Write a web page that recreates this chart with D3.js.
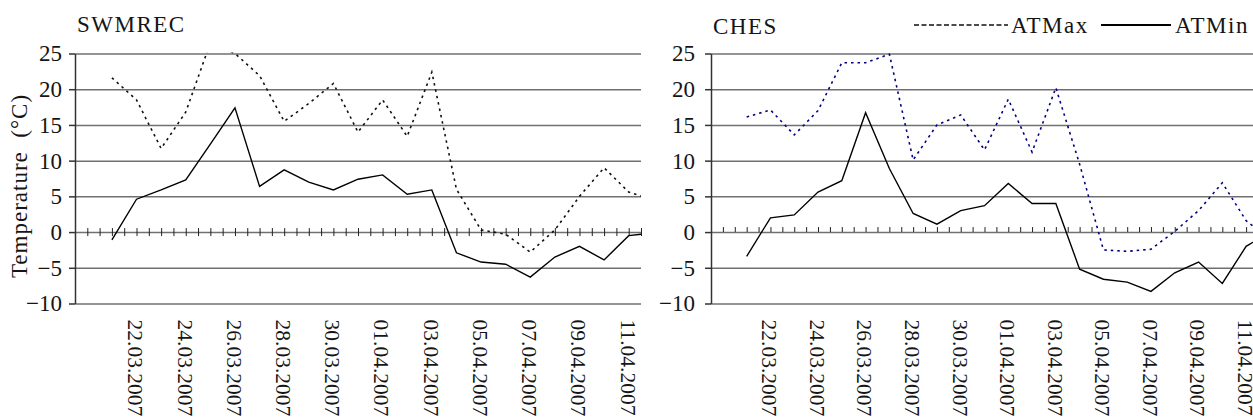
<!DOCTYPE html>
<html>
<head>
<meta charset="utf-8">
<script src="https://cdn.jsdelivr.net/npm/d3@7"></script>
<style>
    body { margin: 0; background: #ffffff; }
    text { font-family: "Liberation Serif", "Times New Roman", serif; font-size: 23px; fill: #151515; }
    .word { letter-spacing: 1.5px; }
    .dates text { font-size: 21.5px; }
    .grid line { stroke: #707070; stroke-width: 1.5; }
    .halfday line { stroke: #222222; stroke-width: 1; }
    .yaxis path, .yaxis line { stroke: #333333; stroke-width: 1.5; }
</style>
</head>
<body>
<svg id="chart" width="1253" height="419"></svg>
<script>
// daily values, 21.03.2007 .. 12.04.2007
const dates = [
    "21.03.2007", "22.03.2007", "23.03.2007", "24.03.2007", "25.03.2007", "26.03.2007",
    "27.03.2007", "28.03.2007", "29.03.2007", "30.03.2007", "31.03.2007", "01.04.2007",
    "02.04.2007", "03.04.2007", "04.04.2007", "05.04.2007", "06.04.2007", "07.04.2007",
    "08.04.2007", "09.04.2007", "10.04.2007", "11.04.2007", "12.04.2007"
];

const swmrecMax = [21.6, 18.5, 11.7, 16.8, 26.5, 25.0, 21.9, 15.5, 18.0, 20.8, 14.0, 18.5,
    13.4, 22.4, 6.0, 0.3, -0.3, -2.8, 0.3, 5.0, 9.0, 5.6, 4.5];
const swmrecMin = [-1.1, 4.6, 5.9, 7.3, 12.3, 17.4, 6.4, 8.7, 7.0, 5.9, 7.4, 8.0,
    5.3, 5.9, -2.9, -4.2, -4.5, -6.3, -3.5, -2.0, -3.9, -0.5, -0.1];

const chesMax = [16.1, 17.1, 13.6, 17.0, 23.7, 23.7, 24.9, 10.1, 15.0, 16.4, 11.5, 18.6,
    11.2, 20.2, 9.5, -2.5, -2.7, -2.4, 0.1, 3.0, 6.9, 1.6, -1.0];
const chesMin = [-3.4, 2.0, 2.4, 5.6, 7.2, 16.7, 8.9, 2.6, 1.1, 3.0, 3.7, 6.8,
    4.0, 4.0, -5.2, -6.6, -7.0, -8.3, -5.7, -4.2, -7.2, -2.0, 0.0];

const yTicks = [-10, -5, 0, 5, 10, 15, 20, 25];
const labelDates = ["22.03.2007", "24.03.2007", "26.03.2007", "28.03.2007", "30.03.2007",
    "01.04.2007", "03.04.2007", "05.04.2007", "07.04.2007", "09.04.2007", "11.04.2007"];

const seriesNames = ["ATMax", "ATMin"];

const attr = {
    top: 53.5,
    bottom: 303.5
};

const panels = [
    { id: "swmrec", title: "SWMREC", x0: 75, x1: 641, titleY: 32, gap: 13, tickUp: 4, tickDown: 4,
      max: swmrecMax, min: swmrecMin, maxColor: "#111111" },
    { id: "ches", title: "CHES", x0: 711, x1: 1258, titleY: 34, gap: 16, tickUp: 5, tickDown: 0,
      max: chesMax, min: chesMin, maxColor: "#000080" }
];

const parse = d3.utcParse("%d.%m.%Y");
const fmt = d3.utcFormat("%d.%m.%Y");

const start = d3.utcHour.offset(parse("19.03.2007"), 12);
const end = d3.utcHour.offset(parse("11.04.2007"), 12);
const halfDays = d3.utcHour.every(12).range(start, d3.utcHour.offset(end, 1));

const translate = function(a, b) {
    return "translate(" + a + ", " + b + ")";
};

const drawPanel = function(svg, p) {
    let x = d3.scaleUtc().domain([start, end]).range([p.x0, p.x1]);
    let y = d3.scaleLinear().domain([-10, 25]).range([attr.bottom, attr.top]);
    let g = svg.append("g").attr("id", p.id);

    g.append("clipPath")
        .attr("id", "clip-" + p.id)
        .append("rect")
        .attr("x", p.x0)
        .attr("y", attr.top - 1)
        .attr("width", p.x1 - p.x0)
        .attr("height", attr.bottom - attr.top + 2);

    // horizontal grid
    g.append("g")
        .attr("class", "grid")
        .attr("transform", translate(p.x0, 0))
        .call(d3.axisLeft(y).tickValues(yTicks).tickSize(-(p.x1 - p.x0)).tickFormat(""))
        .call(a => a.select(".domain").remove());

    // half-day ticks on the zero line
    g.append("g")
        .attr("class", "halfday")
        .attr("transform", translate(0, y(0) - p.tickUp))
        .call(d3.axisBottom(x).tickValues(halfDays).tickSize(p.tickUp + p.tickDown).tickFormat(""))
        .call(a => a.select(".domain").remove());

    // rotated date labels
    g.append("g")
        .attr("class", "dates")
        .attr("transform", translate(0, attr.bottom))
        .call(d3.axisBottom(x).tickValues(labelDates.map(parse)).tickSize(0).tickFormat(fmt))
        .call(a => a.select(".domain").remove())
        .selectAll("text")
        .attr("transform", "rotate(90)")
        .attr("x", 16)
        .attr("y", 0)
        .attr("dy", "0.4em")
        .style("text-anchor", "start");

    let rows = dates.map((d, i) => ({ date: parse(d), max: p.max[i], min: p.min[i] }));

    let lineMax = d3.line().x(d => x(d.date)).y(d => y(d.max));
    let lineMin = d3.line().x(d => x(d.date)).y(d => y(d.min));

    let lines = g.append("g").attr("clip-path", "url(#clip-" + p.id + ")");

    lines.append("path")
        .datum(rows)
        .attr("d", lineMax)
        .attr("fill", "none")
        .attr("stroke", p.maxColor)
        .attr("stroke-width", 1.6)
        .attr("stroke-dasharray", "2.5,4");

    lines.append("path")
        .datum(rows)
        .attr("d", lineMin)
        .attr("fill", "none")
        .attr("stroke", "#000000")
        .attr("stroke-width", 1.4);

    // y axis
    g.append("g")
        .attr("class", "yaxis")
        .attr("transform", translate(p.x0, 0))
        .call(d3.axisLeft(y).tickValues(yTicks).tickSizeInner(6).tickSizeOuter(0).tickPadding(p.gap - 6));

    g.append("text")
        .attr("class", "word")
        .attr("x", p.x0 + 2)
        .attr("y", p.titleY)
        .text(p.title);
};

const drawLegend = function(svg) {
    let legend = svg.append("g").attr("id", "legend");

    legend.append("line")
        .attr("x1", 914).attr("x2", 1008)
        .attr("y1", 25).attr("y2", 25)
        .attr("stroke", "#111111")
        .attr("stroke-width", 1.3)
        .attr("stroke-dasharray", "5,2.5");

    legend.append("text")
        .attr("class", "word")
        .attr("x", 1011)
        .attr("y", 33)
        .text(seriesNames[0]);

    legend.append("line")
        .attr("x1", 1101).attr("x2", 1171)
        .attr("y1", 25).attr("y2", 25)
        .attr("stroke", "#000000")
        .attr("stroke-width", 2);

    legend.append("text")
        .attr("class", "word")
        .attr("x", 1175)
        .attr("y", 33)
        .text(seriesNames[1]);
};

let svg = d3.select("#chart");

panels.forEach(p => drawPanel(svg, p));

svg.append("text")
    .attr("transform", translate(27, 186) + " rotate(-90)")
    .attr("text-anchor", "middle")
    .style("letter-spacing", "1px")
    .style("white-space", "pre")
    .text("Temperature  (°C)");

drawLegend(svg);
</script>
</body>
</html>
